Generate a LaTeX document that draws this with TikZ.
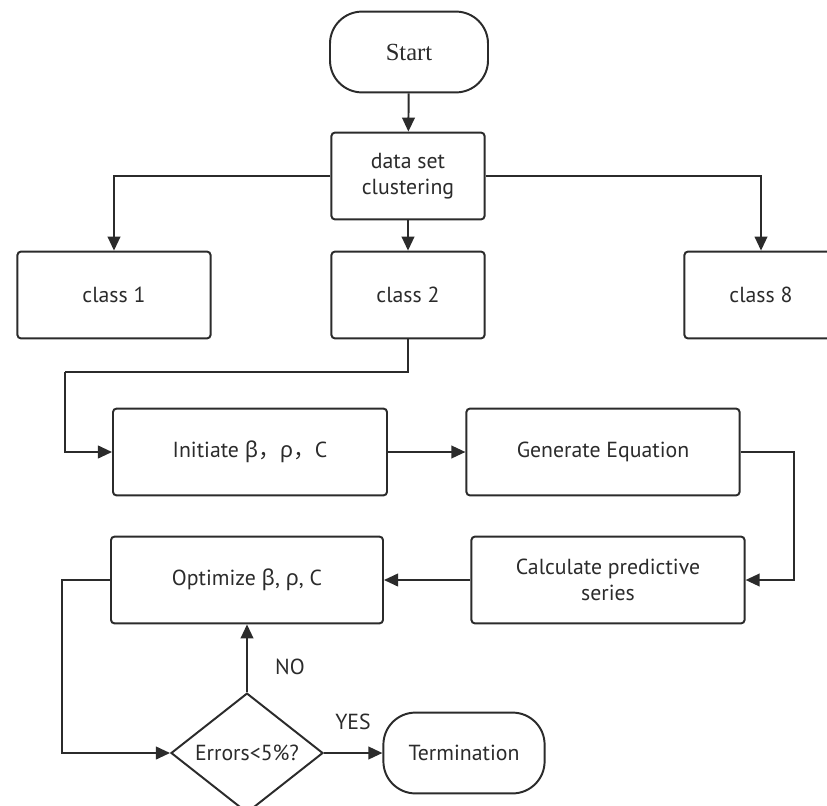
\documentclass[tikz,border=0pt]{standalone}
\usepackage{fontspec}
\setmainfont{PT Sans}
\newfontfamily\startfont{Liberation Serif}
\newfontfamily\greekfont{Noto Sans}
\newfontfamily\cjkfont{Noto Sans CJK SC}
\usetikzlibrary{arrows.meta}
\usetikzlibrary{shapes.geometric}

\newcommand{\gbeta}{{\greekfont β}}
\newcommand{\grho}{{\greekfont ρ}}
\newcommand{\wcomma}{{\cjkfont ，}}

\begin{document}
\begin{tikzpicture}[
		stepbox/.style={
			draw=linecol, line width=1.4pt, rounded corners=2.5pt,
			minimum width=#1, minimum height=2.17cm, align=center,
			font=\fontsize{15.5}{18.5}\selectfont, text=linecol
		},
		stepbox/.default=3.83cm,
		termbox/.style={
			draw=linecol, line width=1.4pt, rounded corners=0.8cm,
			minimum width=#1, minimum height=2.02cm, align=center,
			font=\fontsize{15.5}{18.5}\selectfont, text=linecol
		},
		decide/.style={
			diamond, draw=linecol, line width=1.4pt, inner sep=0pt,
			minimum width=3.8cm, minimum height=2.75cm,
			font=\fontsize{15.5}{18.5}\selectfont, text=linecol
		},
		flow/.style={
			draw=linecol, line width=1.4pt,
			-{Triangle[length=10pt,width=9pt]}
		},
		answer/.style={
			font=\fontsize{15.5}{18.5}\selectfont, text=linecol
		}
		]
		
		\definecolor{linecol}{HTML}{2B2B2B}
		
		\useasboundingbox (0,0) rectangle (20.675,-20.125);
		
		\node[termbox=3.95cm, font=\startfont\fontsize{17.5}{20}\selectfont] (start) at (10.225,-1.3) {Start};
		\node[stepbox] (data) at (10.2,-4.4) {data set\\clustering};
		
		\node[stepbox=4.83cm] (class1) at (2.85,  -7.375) {class 1};
		\node[stepbox]        (class2) at (10.2,  -7.375) {class 2};
		\node[stepbox]        (class8) at (19.025,-7.375) {class 8};
		
		\node[stepbox=6.85cm] (init) at (6.25, -11.3) {Initiate \gbeta\wcomma\grho\wcomma C};
		\node[stepbox=6.83cm] (gen)  at (15.075,-11.3) {Generate Equation};
		\node[stepbox=6.83cm] (calc) at (15.2,  -14.5) {Calculate predictive\\series};
		\node[stepbox=6.8cm]  (opt)  at (6.175, -14.5) {Optimize \gbeta, \grho, C};
		
		\node[decide] (check) at (6.175,-18.825) {Errors<5\%?};
		\node[termbox=4.03cm] (term) at (11.6,-18.825) {Termination};
		
		\node[answer] (no)  at (7.25, -16.675) {NO};
		\node[answer] (yes) at (8.825,-18.05)  {YES};
		
		\coordinate (bend1) at (1.625,-9.3);
		\coordinate (bend2) at (19.85,-12.9);
		\coordinate (bend3) at (1.55,-16.6);
		
		\draw[flow] (start) -- (data);
		\draw[flow] (data.west) -| (class1.north);
		\draw[flow] (data) -- (class2);
		\draw[flow] (data.east) -| (class8.north);
		
		\draw[draw=linecol, line width=1.4pt] (class2.south) |- (bend1);
		\draw[flow] (bend1) |- (init.west);
		\draw[flow] (init) -- (gen);
		\draw[draw=linecol, line width=1.4pt] (gen.east) -| (bend2);
		\draw[flow] (bend2) |- (calc.east);
		\draw[flow] (calc) -- (opt);
		\draw[draw=linecol, line width=1.4pt] (opt.west) -| (bend3);
		\draw[flow] (bend3) |- (check.west);
		\draw[flow] (check) -- (opt);
		\draw[flow] (check) -- (term);
		
	\end{tikzpicture}
\end{document}
